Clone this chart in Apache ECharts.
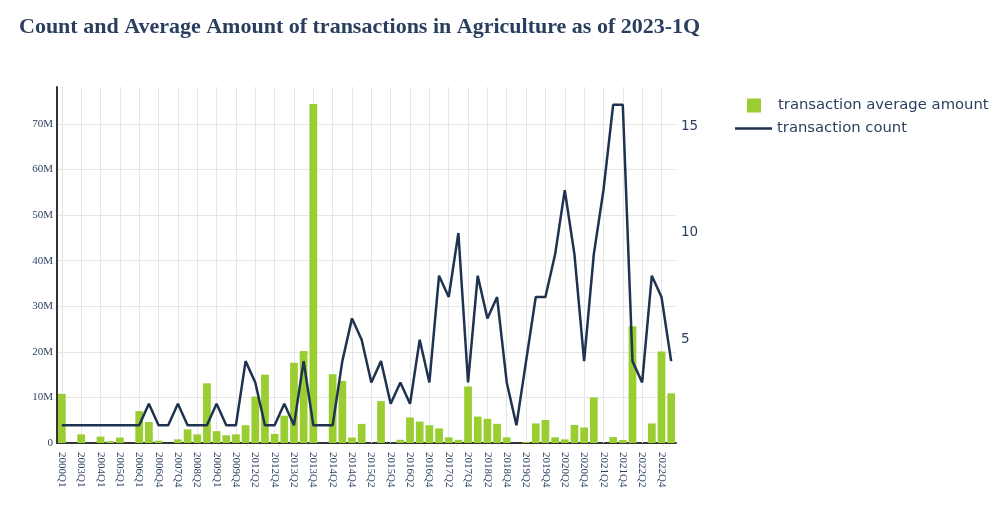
<!DOCTYPE html>
<html>
<head>
<meta charset="utf-8">
<script src="https://cdn.jsdelivr.net/npm/echarts@6/dist/echarts.min.js"></script>
<style>
html,body{margin:0;padding:0;background:#fff;}
#chart{width:999px;height:521px;}
</style>
</head>
<body>
<div id="chart"></div>
<script>
// Quarters that have transactions (x categories)
const categories = [
  '2000Q1','2002Q2','2003Q1','2003Q3','2004Q1','2004Q3','2005Q1','2005Q3','2006Q1','2006Q2',
  '2006Q4','2007Q2','2007Q4','2008Q1','2008Q2','2008Q4','2009Q1','2009Q3','2009Q4','2011Q4',
  '2012Q2','2012Q3','2012Q4','2013Q1','2013Q2','2013Q3','2013Q4','2014Q1','2014Q2','2014Q3',
  '2014Q4','2015Q1','2015Q2','2015Q3','2015Q4','2016Q1','2016Q2','2016Q3','2016Q4','2017Q1',
  '2017Q2','2017Q3','2017Q4','2018Q1','2018Q2','2018Q3','2018Q4','2019Q1','2019Q2','2019Q3',
  '2019Q4','2020Q1','2020Q2','2020Q3','2020Q4','2021Q1','2021Q2','2021Q3','2021Q4','2022Q1',
  '2022Q2','2022Q3','2022Q4','2023Q1'
];

// transaction average amount, in millions
const avgAmountM = [
  10.8, 0, 1.9, 0, 1.4, 0.4, 1.2, 0, 7.0, 4.6,
  0.5, 0, 0.8, 3.0, 1.9, 13.1, 2.6, 1.7, 1.9, 3.9,
  10.2, 15.0, 2.0, 6.0, 17.6, 20.2, 74.4, 0, 15.1, 13.6,
  1.2, 4.2, 0, 9.2, 0, 0.7, 5.6, 4.7, 3.9, 3.2,
  1.25, 0.7, 12.4, 5.8, 5.3, 4.2, 1.25, 0, 0.2, 4.3,
  5.05, 1.25, 0.8, 3.96, 3.4, 10.0, 0, 1.3, 0.65, 25.6,
  0, 4.3, 20.1, 10.9
];

// transaction count
const txCount = [
  1, 1, 1, 1, 1, 1, 1, 1, 1, 2,
  1, 1, 2, 1, 1, 1, 2, 1, 1, 4,
  3, 1, 1, 2, 1, 4, 1, 1, 1, 4,
  6, 5, 3, 4, 2, 3, 2, 5, 3, 8,
  7, 10, 3, 8, 6, 7, 3, 1, 4, 7,
  7, 9, 12, 9, 4, 9, 12, 16, 16, 4,
  3, 8, 7, 4
];

const titleText = 'Count and Average Amount of transactions in Agriculture as of 2023-1Q';
const barName = 'transaction average amount';
const lineName = 'transaction count';

const textColor = '#2a3f5f';
const gridColor = '#e6e6e6';

const chart = echarts.init(document.getElementById('chart'), null, {renderer: 'canvas'});

const maxAmount = Math.max.apply(null, avgAmountM) * 1.05;
const cMin = Math.min.apply(null, txCount), cMax = Math.max.apply(null, txCount);
const cPad = (cMax - cMin) * 0.05 / 0.9;

// vertical grid lines at every labelled (even-index) category
const vGrid = categories.filter(function (c, i) { return i % 2 === 0; })
  .map(function (c) { return {xAxis: c}; });

chart.setOption({
  animation: false,
  backgroundColor: '#ffffff',
  title: {
    text: titleText,
    left: 14,
    top: 11,
    textStyle: {fontFamily: 'Liberation Serif', fontWeight: 'bold', fontSize: 22, color: textColor}
  },
  legend: [
    {
      data: [barName], left: 742, top: 93, itemWidth: 14, itemHeight: 14, icon: 'rect',
      textStyle: {fontFamily: 'DejaVu Sans', fontSize: 14.8, color: textColor, padding: [0, 0, 0, 12]}
    },
    {
      data: [{name: lineName, icon: 'rect'}], left: 730, top: 116, itemWidth: 37, itemHeight: 2.5,
      textStyle: {fontFamily: 'DejaVu Sans', fontSize: 14.8, color: textColor}
    }
  ],
  grid: {left: 57, right: 323, top: 87, bottom: 78, containLabel: false},
  xAxis: {
    type: 'category',
    data: categories,
    boundaryGap: true,
    axisLine: {show: true, lineStyle: {color: '#333', width: 2}},
    axisTick: {show: false},
    axisLabel: {interval: 1, rotate: -90, margin: 9, fontFamily: 'Liberation Serif', fontSize: 11, color: textColor},
    splitLine: {show: false}
  },
  yAxis: [
    {
      type: 'value', position: 'left', min: 0, max: maxAmount, interval: 10,
      axisLine: {show: true, lineStyle: {color: '#333', width: 2}},
      axisTick: {show: false},
      axisLabel: {
        formatter: function (v) { return v === 0 ? '0' : v + 'M'; },
        showMaxLabel: false, margin: 4,
        fontFamily: 'Liberation Serif', fontSize: 11, color: textColor
      },
      splitLine: {show: true, showMaxLine: false, lineStyle: {color: gridColor, width: 1}}
    },
    {
      type: 'value', position: 'right', min: cMin - cPad, max: cMax + cPad, splitNumber: 3,
      axisLine: {show: false}, axisTick: {show: false},
      axisLabel: {showMinLabel: false, showMaxLabel: false, margin: 5, fontFamily: 'DejaVu Sans', fontSize: 13.5, color: textColor},
      splitLine: {show: false}
    }
  ],
  series: [
    {
      type: 'bar', name: barName, data: avgAmountM, yAxisIndex: 0,
      barCategoryGap: '20%', itemStyle: {color: '#9ACD32'}, z: 2,
      markLine: {
        silent: true, z: 1, symbol: 'none', animation: false,
        label: {show: false},
        emphasis: {disabled: true},
        lineStyle: {color: gridColor, width: 1, type: 'solid'},
        data: vGrid
      }
    },
    {
      type: 'line', name: lineName, data: txCount, yAxisIndex: 1,
      symbol: 'none', showSymbol: false,
      lineStyle: {color: '#1f3250', width: 2.5}, itemStyle: {color: '#1f3250'}, z: 3
    }
  ]
});
</script>
</body>
</html>
